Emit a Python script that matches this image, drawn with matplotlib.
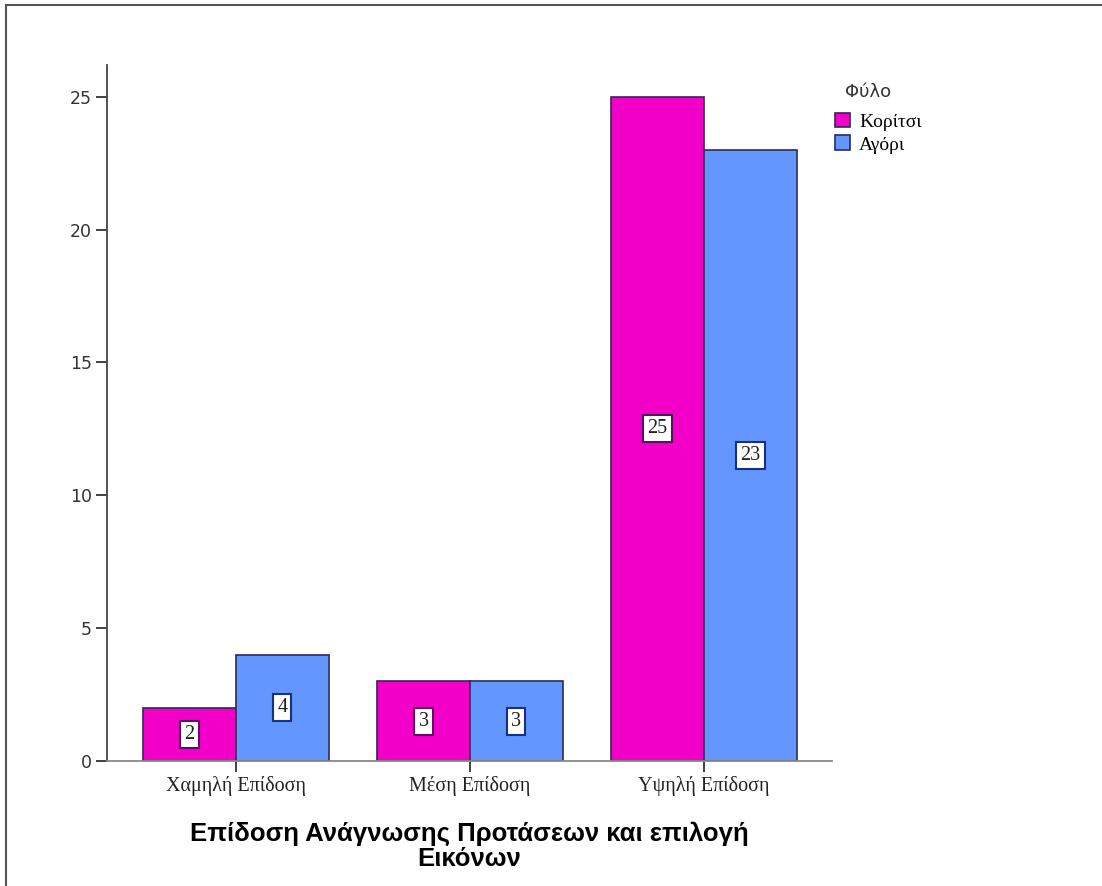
import numpy as np
import matplotlib
matplotlib.use('Agg')
import matplotlib.pyplot as plt
from matplotlib.lines import Line2D

categories = ['Χαμηλή Επίδοση', 'Μέση Επίδοση', 'Υψηλή Επίδοση']
girls = [2, 3, 25]
boys = [4, 3, 23]
series_names = ['Κορίτσι', 'Αγόρι']
legend_title = 'Φύλο'
x_title = 'Επίδοση Ανάγνωσης Προτάσεων και επιλογή\nΕικόνων'

pink = '#f200c8'
blue = '#6496ff'
edge = '#2e2a5a'

fig = plt.figure(figsize=(11.02, 8.86), dpi=100)
ax = fig.add_axes([0.0971, 0.1411, 0.6579, 0.7856])

x = np.arange(len(categories))
w = 0.397
b1 = ax.bar(x - w / 2, girls, w, color=pink, edgecolor=edge, linewidth=1.2, label=series_names[0])
b2 = ax.bar(x + w / 2, boys, w, color=blue, edgecolor=edge, linewidth=1.2, label=series_names[1])

# value boxes in the middle of every bar
for bars, vals, bc in [(b1, girls, '#5a1060'), (b2, boys, '#1a2f80')]:
    for r, v in zip(bars, vals):
        ax.text(r.get_x() + r.get_width() / 2, v / 2, str(v), ha='center', va='center',
                fontsize=14.5, family='Liberation Serif', color='#222222',
                bbox=dict(boxstyle='square,pad=0.2', fc='white', ec=bc, lw=1.5))

ax.set_xlim(-0.551, 2.547)
ax.set_ylim(0, 26.2)
ax.set_yticks([0, 5, 10, 15, 20, 25])
ax.set_xticks(x)
ax.set_xticklabels(categories, family='Liberation Serif', fontsize=14.5, color='#222222')
for lab in ax.get_yticklabels():
    lab.set_fontsize(12.5)
    lab.set_color('#333333')
ax.tick_params(axis='both', length=8, width=1.3, color='#333333', pad=3)

ax.spines['top'].set_visible(False)
ax.spines['right'].set_visible(False)
ax.spines['left'].set_color('#444444')
ax.spines['left'].set_linewidth(1.3)
ax.spines['bottom'].set_color('#888888')
ax.spines['bottom'].set_linewidth(1.3)

ax.set_xlabel(x_title, family='Liberation Sans', fontweight='bold', fontsize=18.5,
              labelpad=18, linespacing=1.08)

# legend entries, with the title placed on its own above them
leg = ax.legend(loc='upper left', bbox_to_anchor=(0.758, 0.873), bbox_transform=fig.transFigure,
                frameon=False, handlelength=0.78, handleheight=0.78,
                handletextpad=0.45, labelspacing=0.25, borderaxespad=0, borderpad=0,
                prop={'family': 'Liberation Serif', 'size': 14})
fig.text(0.767, 0.896, legend_title, fontsize=13, color='#333333', va='center', ha='left')

# frame lines along the top and left edge
fig.add_artist(Line2D([0.005, 1.0], [0.994, 0.994], color='#555555', lw=1.5, transform=fig.transFigure))
fig.add_artist(Line2D([0.005, 0.005], [0.0, 0.994], color='#555555', lw=1.5, transform=fig.transFigure))

fig.savefig('out.png', dpi=100, facecolor='white')
